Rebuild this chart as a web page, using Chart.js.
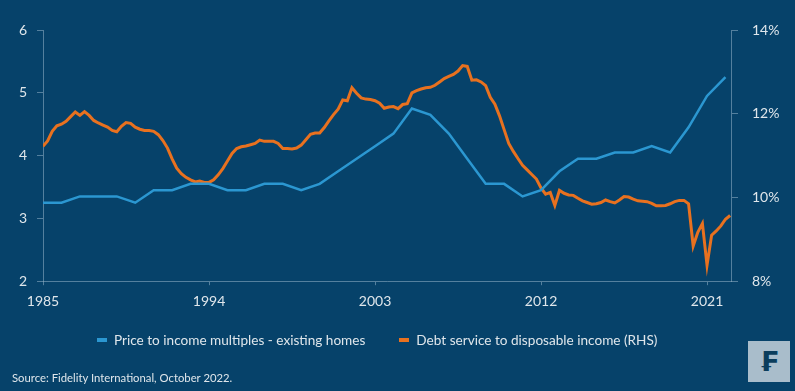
<!DOCTYPE html>
<html>
<head>
<meta charset="utf-8">
<script src="https://cdn.jsdelivr.net/npm/chart.js@4/dist/chart.umd.min.js"></script>
<style>
  html, body { margin: 0; padding: 0; background: #06426a; }
  #wrap { position: relative; width: 795px; height: 391px; background: #06426a; font-family: Lato, "Open Sans", sans-serif; }
  #legend { position: absolute; left: 97px; top: 331px; display: flex; font-size: 13.6px; color: #dfe6eb; line-height: 18px; }
  #legend .item { display: flex; align-items: center; margin-right: 34px; }
  #legend .sw { width: 10px; height: 4px; margin-right: 7px; }
  #source { position: absolute; left: 12px; top: 371px; font-size: 11.3px; color: #dfe6eb; }
  #logo { position: absolute; left: 748px; top: 341px; width: 42px; height: 41px; background: #a9bdcb;
          color: #0b3d5c; font: bold 27px "DejaVu Sans", sans-serif; text-align: center; line-height: 41px; }
</style>
</head>
<body>
<div id="wrap">
  <canvas id="chart"></canvas>
  <div id="legend"></div>
  <div id="source">Source: Fidelity International, October 2022.</div>
  <div id="logo">₣</div>
</div>
<script>
// x axis ticks
const xTicks = [1985, 1994, 2003, 2012, 2021];

// Price to income multiples - existing homes (annual, LHS)
const priceYears = [1985, 1986, 1987, 1988, 1989, 1990, 1991, 1992, 1993, 1994, 1995, 1996, 1997,
  1998, 1999, 2000, 2001, 2002, 2003, 2004, 2005, 2006, 2007, 2008, 2009, 2010, 2011, 2012, 2013,
  2014, 2015, 2016, 2017, 2018, 2019, 2020, 2021, 2022];
const priceValues = [3.25, 3.25, 3.35, 3.35, 3.35, 3.25, 3.45, 3.45, 3.55, 3.55, 3.45, 3.45, 3.55,
  3.55, 3.45, 3.55, 3.75, 3.95, 4.15, 4.35, 4.75, 4.65, 4.35, 3.95, 3.55, 3.55, 3.35, 3.45, 3.75,
  3.95, 3.95, 4.05, 4.05, 4.15, 4.05, 4.45, 4.95, 5.25];

// Debt service to disposable income (quarterly from 1985 Q1, RHS, %)
const debtStart = 1985;
const debtValues = [
  11.22, 11.35, 11.58, 11.71, 11.75, 11.82, 11.93, 12.04, 11.96, 12.05, 11.96, 11.84, 11.78, 11.73, 11.68, 11.60,
  11.57, 11.70, 11.79, 11.77, 11.68, 11.63, 11.60, 11.60, 11.58, 11.50, 11.36, 11.18, 10.92, 10.70, 10.57, 10.48,
  10.42, 10.37, 10.39, 10.36, 10.36, 10.42, 10.54, 10.69, 10.87, 11.05, 11.17, 11.21, 11.23, 11.26, 11.29, 11.37,
  11.34, 11.34, 11.34, 11.29, 11.17, 11.17, 11.16, 11.18, 11.25, 11.38, 11.51, 11.54, 11.54, 11.67, 11.83, 11.98,
  12.11, 12.33, 12.31, 12.62, 12.49, 12.38, 12.35, 12.34, 12.31, 12.25, 12.13, 12.16, 12.17, 12.12, 12.22, 12.24,
  12.50, 12.55, 12.59, 12.62, 12.63, 12.68, 12.76, 12.84, 12.89, 12.94, 13.02, 13.15, 13.13, 12.80, 12.81, 12.76,
  12.67, 12.39, 12.23, 11.95, 11.62, 11.29, 11.10, 10.93, 10.77, 10.66, 10.55, 10.44, 10.23, 10.08, 10.12, 9.81,
  10.17, 10.10, 10.06, 10.05, 9.98, 9.92, 9.88, 9.84, 9.85, 9.88, 9.94, 9.90, 9.87, 9.94, 10.02, 10.01,
  9.96, 9.92, 9.91, 9.90, 9.86, 9.80, 9.80, 9.81, 9.85, 9.90, 9.93, 9.93, 9.85, 8.84, 9.17, 9.38,
  8.38, 9.10, 9.20, 9.32, 9.48, 9.57
];

const TEXT = "#dfe6eb";
const AXIS = "rgba(150,180,200,0.55)";
const BLUE = "#2b97d1";
const ORANGE = "#e8711f";

const priceData = priceYears.map((yr, i) => ({ x: yr, y: priceValues[i] }));
const debtData = debtValues.map((v, i) => ({ x: debtStart + i / 4, y: v }));

Chart.defaults.font.family = "Lato, 'Open Sans', sans-serif";
Chart.defaults.color = TEXT;

const chart = new Chart(document.getElementById("chart").getContext("2d"), {
  type: "line",
  data: {
    datasets: [
      { label: "Price to income multiples - existing homes", data: priceData, yAxisID: "y",
        borderColor: BLUE, backgroundColor: BLUE, borderWidth: 2.5, pointRadius: 0, tension: 0 },
      { label: "Debt service to disposable income (RHS)", data: debtData, yAxisID: "y1",
        borderColor: ORANGE, backgroundColor: ORANGE, borderWidth: 3, pointRadius: 0, tension: 0 },
    ],
  },
  options: {
    responsive: true, maintainAspectRatio: false, animation: false,
    layout: { padding: { top: 30, bottom: 73, left: 0, right: 0 } },
    plugins: { tooltip: { enabled: false }, legend: { display: false } },
    scales: {
      x: {
        type: "linear", min: 1985, max: 2022.3,
        afterBuildTicks: (s) => { s.ticks = xTicks.map((v) => ({ value: v })); },
        ticks: { callback: (v) => String(v), font: { size: 14 }, padding: 8, maxRotation: 0 },
        grid: { drawOnChartArea: false, color: AXIS, tickLength: 4 },
        border: { color: AXIS },
      },
      y: {
        position: "left", min: 2, max: 6,
        ticks: { stepSize: 1, font: { size: 14 }, padding: 10 },
        grid: { drawOnChartArea: false, color: AXIS, tickLength: 6 },
        border: { color: AXIS },
        afterFit: (s) => { s.width = 43; },
      },
      y1: {
        position: "right", min: 8, max: 14,
        ticks: { stepSize: 2, font: { size: 14 }, padding: 14, callback: (v) => v + "%" },
        grid: { drawOnChartArea: false, color: AXIS, tickLength: 7 },
        border: { color: AXIS },
        afterFit: (s) => { s.width = 64; },
      },
    },
  },
});

// HTML legend built from the datasets
const legend = document.getElementById("legend");
chart.data.datasets.forEach((ds) => {
  const item = document.createElement("div"); item.className = "item";
  const sw = document.createElement("span"); sw.className = "sw"; sw.style.background = ds.borderColor;
  item.append(sw, document.createTextNode(ds.label));
  legend.append(item);
});
</script>
</body>
</html>
